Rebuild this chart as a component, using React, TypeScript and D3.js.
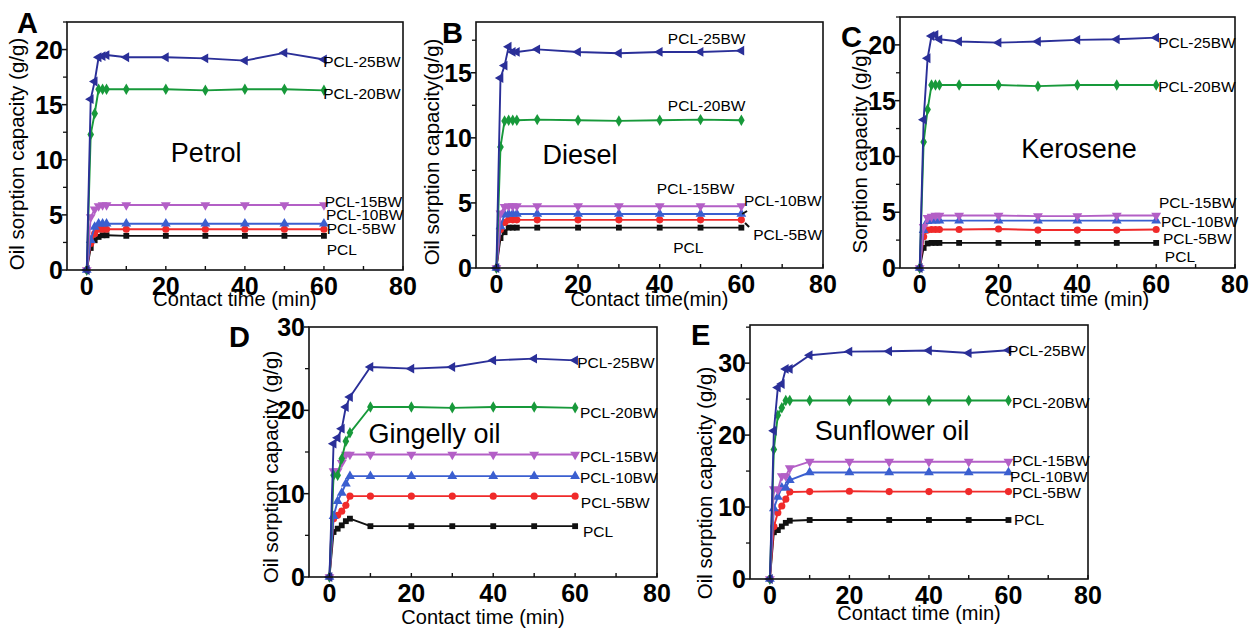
import React from "react";
import * as d3 from "d3";

// ---------- data ----------
const TIME = [0, 1, 2, 3, 4, 5, 10, 20, 30, 40, 50, 60];
const SERIES = ["PCL", "PCL-5BW", "PCL-10BW", "PCL-15BW", "PCL-20BW", "PCL-25BW"];
const COLORS = ["#111111", "#f02a2a", "#3b5fd0", "#b35fc6", "#17993a", "#2a2f98"];
const X_TICKS = [0, 20, 40, 60, 80];

const PETROL = [
  [0, 2.0, 2.7, 3.0, 3.15, 3.15, 3.1, 3.1, 3.1, 3.1, 3.1, 3.1],
  [0, 2.4, 3.3, 3.7, 3.7, 3.7, 3.7, 3.7, 3.7, 3.7, 3.7, 3.7],
  [0, 2.7, 3.9, 4.2, 4.2, 4.2, 4.2, 4.2, 4.2, 4.2, 4.2, 4.2],
  [0, 4.8, 5.5, 5.8, 5.9, 5.9, 5.9, 5.9, 5.9, 5.9, 5.9, 5.9],
  [0, 12.3, 14.2, 16.4, 16.4, 16.4, 16.4, 16.4, 16.3, 16.4, 16.4, 16.3],
  [0, 15.5, 17.1, 19.3, 19.4, 19.5, 19.3, 19.3, 19.2, 19.0, 19.7, 19.1],
];
const DIESEL = [
  [0, 2.3, 2.75, 3.1, 3.1, 3.1, 3.1, 3.1, 3.1, 3.1, 3.1, 3.1],
  [0, 2.95, 3.5, 3.7, 3.7, 3.7, 3.7, 3.7, 3.7, 3.7, 3.7, 3.7],
  [0, 3.2, 4.1, 4.15, 4.15, 4.15, 4.15, 4.15, 4.15, 4.15, 4.15, 4.15],
  [0, 4.2, 4.7, 4.75, 4.75, 4.75, 4.75, 4.75, 4.75, 4.75, 4.75, 4.75],
  [0, 9.3, 11.3, 11.35, 11.35, 11.35, 11.4, 11.35, 11.3, 11.35, 11.4, 11.35],
  [0, 14.6, 15.55, 17.0, 16.6, 16.6, 16.8, 16.6, 16.5, 16.6, 16.6, 16.7],
];
const KEROSENE = [
  [0, 1.8, 2.2, 2.25, 2.25, 2.25, 2.25, 2.25, 2.25, 2.25, 2.25, 2.25],
  [0, 2.8, 3.4, 3.45, 3.45, 3.45, 3.45, 3.5, 3.4, 3.4, 3.4, 3.45],
  [0, 3.4, 4.2, 4.25, 4.25, 4.25, 4.25, 4.25, 4.25, 4.25, 4.25, 4.25],
  [0, 3.7, 4.5, 4.6, 4.7, 4.7, 4.7, 4.7, 4.65, 4.65, 4.7, 4.7],
  [0, 11.3, 14.2, 16.4, 16.4, 16.4, 16.4, 16.4, 16.3, 16.4, 16.4, 16.4],
  [0, 13.3, 18.8, 20.8, 20.9, 20.5, 20.3, 20.2, 20.3, 20.45, 20.5, 20.65],
];
const GINGELLY = [
  [0, 5.4, 5.8, 6.2, 6.7, 7.0, 6.1, 6.1, 6.1, 6.1, 6.1, 6.1],
  [0, 7.0, 7.4, 7.9, 8.6, 9.7, 9.7, 9.7, 9.7, 9.7, 9.7, 9.7],
  [0, 7.3, 9.1, 10.1, 11.2, 12.1, 12.1, 12.1, 12.1, 12.1, 12.1, 12.1],
  [0, 12.7, 12.7, 13.7, 14.7, 14.7, 14.7, 14.7, 14.7, 14.7, 14.7, 14.7],
  [0, 12.2, 12.2, 14.2, 16.3, 17.3, 20.4, 20.4, 20.3, 20.4, 20.4, 20.3],
  [0, 16.0, 16.7, 17.8, 20.4, 21.6, 25.2, 25.0, 25.2, 26.0, 26.2, 26.0],
];
const SUNFLOWER = [
  [0, 6.5, 6.8, 7.3, 7.8, 8.1, 8.2, 8.2, 8.2, 8.2, 8.2, 8.2],
  [0, 7.3, 9.2, 10.15, 11.1, 12.1, 12.15, 12.2, 12.15, 12.15, 12.15, 12.15],
  [0, 9.8, 11.4, 12.7, 12.7, 13.75, 14.8, 14.8, 14.8, 14.8, 14.8, 14.8],
  [0, 12.5, 12.4, 14.3, 14.3, 15.4, 16.3, 16.3, 16.3, 16.3, 16.3, 16.3],
  [0, 18.0, 22.75, 23.8, 24.8, 24.8, 24.8, 24.8, 24.8, 24.8, 24.8, 24.8],
  [0, 20.6, 26.6, 27.1, 29.2, 29.2, 31.1, 31.6, 31.65, 31.75, 31.4, 31.8],
];

// series-label anchors, in data units (x, y) for each series
const LABELS_A = [[60.7, 1.9], [60.7, 3.72], [60.5, 5.08], [60.2, 6.17], [59.8, 15.97], [59.8, 18.96]];
const LABELS_B = [[43.3, 1.61], [62.9, 2.61], [60.65, 5.15], [39.3, 6.14], [42.0, 12.5], [42.0, 17.6]];
const LABELS_C = [[62.2, 1.07], [61.7, 2.6], [61.2, 4.2], [60.7, 5.9], [60.5, 16.3], [60.5, 20.25]];
const LABELS_D = [[61.9, 5.5], [61.4, 9.0], [61.2, 11.9], [61.2, 14.5], [61.2, 19.8], [60.5, 25.8]];
const LABELS_E = [[61.4, 8.2], [60.9, 12.0], [60.4, 14.3], [60.9, 16.4], [60.9, 24.5], [59.9, 31.8]];
const POINTERS_B = [[[60.2, 4.15], [61.4, 4.38]], [[60.9, 3.46], [61.9, 3.15]]];

// ---------- layout ----------
const FONT = "'Liberation Sans', Arial, Helvetica, sans-serif";
const PANELS = [
  {
    letter: "A", letterPos: [17, 33], name: "Petrol", namePos: [30.2, 10.6],
    box: { left: 67, top: 22, right: 403, bottom: 270 }, yMax: 22.5, yMajor: [0, 5, 10, 15, 20], yMinorStep: 2.5,
    yLabel: "Oil sorption capacity (g/g)", yLabelPos: [16, 154], xLabel: "Contact time (min)", xLabelY: 306,
    values: PETROL, labels: LABELS_A, pointers: [],
  },
  {
    letter: "B", letterPos: [442, 43], name: "Diesel", namePos: [20.5, 8.68],
    box: { left: 476, top: 22, right: 823, bottom: 268 }, yMax: 18.9, yMajor: [0, 5, 10, 15], yMinorStep: 2.5,
    yLabel: "Oil sorption capacity(g/g)", yLabelPos: [431, 152], xLabel: "Contact time(min)", xLabelY: 306,
    values: DIESEL, labels: LABELS_B, pointers: POINTERS_B,
  },
  {
    letter: "C", letterPos: [841, 47], name: "Kerosene", namePos: [40.4, 10.66],
    box: { left: 900, top: 17, right: 1235, bottom: 268 }, yMax: 22.5, yMajor: [0, 5, 10, 15, 20], yMinorStep: 2.5,
    yLabel: "Sorption capacity (g/g)", yLabelPos: [859, 151], xLabel: "Contact time (min)", xLabelY: 306,
    values: KEROSENE, labels: LABELS_C, pointers: [],
  },
  {
    letter: "D", letterPos: [229, 347], name: "Gingelly oil", namePos: [25.65, 17.2],
    box: { left: 309, top: 327, right: 657, bottom: 577 }, yMax: 30, yMajor: [0, 10, 20, 30], yMinorStep: 5,
    yLabel: "Oil sorption capacity (g/g)", yLabelPos: [270, 467], xLabel: "Contact time (min)", xLabelY: 624,
    values: GINGELLY, labels: LABELS_D, pointers: [],
  },
  {
    letter: "E", letterPos: [691, 345], name: "Sunflower oil", namePos: [30.7, 20.6],
    box: { left: 750, top: 325, right: 1088, bottom: 579 }, yMax: 35.3, yMajor: [0, 10, 20, 30], yMinorStep: 5,
    yLabel: "Oil sorption capacity (g/g)", yLabelPos: [704, 483], xLabel: "Contact time (min)", xLabelY: 620,
    values: SUNFLOWER, labels: LABELS_E, pointers: [],
  },
];

const SYMBOLS = [d3.symbolSquare, d3.symbolCircle, d3.symbolTriangle, d3.symbolTriangle, d3.symbolDiamond, d3.symbolTriangle];
const SYMBOL_ROT = [0, 0, 0, 180, 0, -90];
const SYMBOL_SIZE = [34, 40, 42, 42, 38, 42];

function Panel({ cfg }: { cfg: any }) {
  const { box } = cfg;
  const x = d3.scaleLinear().domain([-5, 80]).range([box.left, box.right]);
  const y = d3.scaleLinear().domain([0, cfg.yMax]).range([box.bottom, box.top]);
  const line = d3
    .line<number>()
    .x((_, i) => x(TIME[i]))
    .y((d) => y(d));
  const minor = d3.range(0, cfg.yMax + 1e-6, cfg.yMinorStep).filter((v: number) => !cfg.yMajor.includes(v));
  const xMinor = d3.range(0, 81, 10);
  const cx = (box.left + box.right) / 2;

  return (
    <g>
      {cfg.values.map((vals: number[], si: number) => {
        const sym = d3.symbol().type(SYMBOLS[si]).size(SYMBOL_SIZE[si])();
        return (
          <g key={si}>
            <path d={line(vals) || ""} fill="none" stroke={COLORS[si]} strokeWidth={1.9} strokeLinejoin="round" />
            {vals.map((v, i) => (
              <path
                key={i}
                d={sym || ""}
                fill={COLORS[si]}
                transform={`translate(${x(TIME[i])},${y(v)}) rotate(${SYMBOL_ROT[si]})`}
              />
            ))}
          </g>
        );
      })}
      <rect x={box.left} y={box.top} width={box.right - box.left} height={box.bottom - box.top} fill="none" stroke="#111" strokeWidth={1.6} />
      {cfg.yMajor.map((t: number) => (
        <g key={"ym" + t}>
          <line x1={box.left - 5} x2={box.left} y1={y(t)} y2={y(t)} stroke="#111" strokeWidth={1.5} />
          <text x={box.left - 4} y={y(t) + 9} textAnchor="end" fontFamily={FONT} fontWeight="bold" fontSize={25} fill="#000">
            {t}
          </text>
        </g>
      ))}
      {minor.map((t: number) => (
        <line key={"yn" + t} x1={box.left - 4} x2={box.left} y1={y(t)} y2={y(t)} stroke="#111" strokeWidth={1.3} />
      ))}
      {xMinor.map((t: number) => (
        <line key={"xt" + t} x1={x(t)} x2={x(t)} y1={box.bottom} y2={box.bottom - 4} stroke="#111" strokeWidth={1.4} />
      ))}
      {X_TICKS.map((t) => (
        <text key={"xl" + t} x={x(t)} y={box.bottom + 25} textAnchor="middle" fontFamily={FONT} fontWeight="bold" fontSize={25} fill="#000">
          {t}
        </text>
      ))}
      <text x={cx} y={cfg.xLabelY} textAnchor="middle" fontFamily={FONT} fontSize={20} fill="#000">
        {cfg.xLabel}
      </text>
      <text
        transform={`translate(${cfg.yLabelPos[0]},${cfg.yLabelPos[1]}) rotate(-90)`}
        textAnchor="middle"
        dominantBaseline="central"
        fontFamily={FONT}
        fontSize={20.5}
        fill="#000"
      >
        {cfg.yLabel}
      </text>
      <text x={cfg.letterPos[0]} y={cfg.letterPos[1]} fontFamily={FONT} fontWeight="bold" fontSize={29} fill="#000">
        {cfg.letter}
      </text>
      <text x={x(cfg.namePos[0])} y={y(cfg.namePos[1])} textAnchor="middle" dominantBaseline="central" fontFamily={FONT} fontSize={27} fill="#000">
        {cfg.name}
      </text>
      {cfg.labels.map((p: number[], si: number) => (
        <text key={"sl" + si} x={x(p[0])} y={y(p[1])} dominantBaseline="central" fontFamily={FONT} fontSize={15.5} fill="#000">
          {SERIES[si]}
        </text>
      ))}
      {cfg.pointers.map((seg: number[][], k: number) => (
        <line key={"pt" + k} x1={x(seg[0][0])} y1={y(seg[0][1])} x2={x(seg[1][0])} y2={y(seg[1][1])} stroke="#111" strokeWidth={2} />
      ))}
    </g>
  );
}

export default function App() {
  return (
    <svg
      width={1250}
      height={629}
      viewBox="0 0 1250 629"
      style={{ position: "absolute", left: 0, top: 0, background: "#fff" }}
    >
      <rect x={0} y={0} width={1250} height={629} fill="#fff" />
      {PANELS.map((p) => (
        <Panel key={p.letter} cfg={p} />
      ))}
    </svg>
  );
}
